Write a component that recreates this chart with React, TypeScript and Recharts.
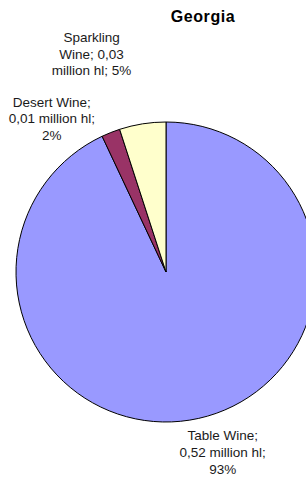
import React from "react";
import { PieChart, Pie, Cell } from "recharts";

const categories = ["Table Wine", "Desert Wine", "Sparkling Wine"];
const shares = [93, 2, 5];
const volumes = ["0,52", "0,01", "0,03"];
const labelLines = [
  ["Table Wine;", "0,52 million hl;", "93%"],
  ["Desert Wine;", "0,01 million hl;", "2%"],
  ["Sparkling", "Wine; 0,03", "million hl; 5%"],
];
const colors = ["#9999FF", "#993366", "#FFFFCC"];
const title = "Georgia";

const data = categories.map((name, i) => ({ name, value: shares[i], volume: volumes[i] }));

const FONT = '"Liberation Sans", Arial, sans-serif';
const labelShift = [
  { dx: 24, dy: 22 },
  { dx: -59, dy: -26 },
  { dx: -51, dy: -82 },
];

const RAD = Math.PI / 180;

const renderLabel = (props: any) => {
  const { cx, cy, midAngle, outerRadius, index } = props;
  const ax = cx + outerRadius * Math.cos(-midAngle * RAD);
  const ay = cy + outerRadius * Math.sin(-midAngle * RAD);
  const s = labelShift[index];
  const x = ax + s.dx;
  const y = ay + s.dy;
  return (
    <text
      key={`lbl-${index}`}
      x={x}
      y={y}
      textAnchor="middle"
      fontFamily={FONT}
      fontSize={13.5}
      fill="#1a1a1a"
    >
      {labelLines[index].map((line, j) => (
        <tspan key={j} x={x} dy={j === 0 ? 0 : 16.7}>
          {line}
        </tspan>
      ))}
    </text>
  );
};

export default function App() {
  return (
    <div style={{ position: "absolute", left: 0, top: 0, width: 306, height: 478, background: "#fff" }}>
      <PieChart width={306} height={478} margin={{ top: 0, right: 0, bottom: 0, left: 0 }}>
        <text x={203} y={22} textAnchor="middle" fontFamily={FONT} fontSize={16} fontWeight="bold" fill="#000" letterSpacing={0.6}>
          {title}
        </text>
        <Pie
          data={data}
          dataKey="value"
          nameKey="name"
          cx={166}
          cy={272}
          innerRadius={0}
          outerRadius={150}
          startAngle={90}
          endAngle={-270}
          stroke="#000"
          strokeWidth={1}
          label={renderLabel}
          labelLine={false}
          isAnimationActive={false}
        >
          {data.map((d, i) => (
            <Cell key={d.name} fill={colors[i]} stroke="#000" strokeWidth={1} />
          ))}
        </Pie>
      </PieChart>
    </div>
  );
}
